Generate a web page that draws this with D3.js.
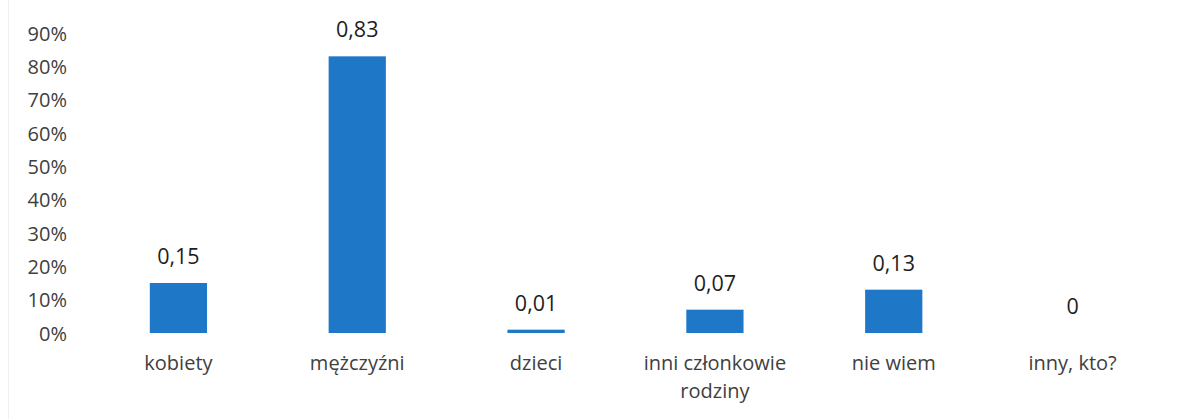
<!DOCTYPE html>
<html>
<head>
<meta charset="utf-8">
<script src="https://cdn.jsdelivr.net/npm/d3@7"></script>
<style>
  html, body { margin: 0; padding: 0; background: #ffffff; }
  svg { display: block; }
</style>
</head>
<body>
<svg id="chart" width="1184" height="419"></svg>
<script>
const categories = ["kobiety", "mężczyźni", "dzieci", "inni członkowie rodziny", "nie wiem", "inny, kto?"];
const values = [0.15, 0.83, 0.01, 0.07, 0.13, 0];
const valueLabels = ["0,15", "0,83", "0,01", "0,07", "0,13", "0"];
const yTicks = [0, 0.1, 0.2, 0.3, 0.4, 0.5, 0.6, 0.7, 0.8, 0.9];

const svg = d3.select("#chart");
const font = "'Open Sans', 'DejaVu Sans', sans-serif";

// faint frame line on the left
svg.append("line").attr("x1", 8.5).attr("x2", 8.5).attr("y1", 0).attr("y2", 419)
  .attr("stroke", "#f0f0f0").attr("stroke-width", 1);

const x = d3.scaleBand().domain(categories).range([89, 1162]).paddingInner(0.68).paddingOuter(0.34);
const y = d3.scaleLinear().domain([0, 0.9]).range([333, 33]);

// y axis
const yAxis = d3.axisLeft(y).tickValues(yTicks).tickFormat(d3.format(".0%")).tickSize(0).tickPadding(0);
const ya = svg.append("g").attr("transform", "translate(67,0)").call(yAxis);
ya.select(".domain").remove();
ya.selectAll("text").attr("font-family", font).attr("font-size", 20).attr("fill", "#404040").attr("dy", "0.35em");

// bars
svg.append("g").selectAll("rect").data(categories).join("rect")
  .attr("x", d => x(d))
  .attr("y", (d, i) => y(values[i]))
  .attr("width", x.bandwidth())
  .attr("height", (d, i) => y(0) - y(values[i]))
  .attr("fill", "#1f77c8");

// value labels
svg.append("g").selectAll("text").data(categories).join("text")
  .attr("x", d => x(d) + x.bandwidth() / 2)
  .attr("y", (d, i) => y(values[i]) - 19)
  .attr("text-anchor", "middle")
  .attr("font-family", font).attr("font-size", 21.5).attr("font-weight", 500)
  .attr("fill", "#1e1e1e")
  .text((d, i) => valueLabels[i]);

// x axis labels
const xAxis = d3.axisBottom(x).tickSize(0).tickPadding(0);
const xa = svg.append("g").attr("transform", "translate(0,353)").call(xAxis);
xa.select(".domain").remove();
xa.selectAll("text").attr("font-family", font).attr("font-size", 20).attr("fill", "#404040")
  .attr("dy", 0).attr("y", 0);

function wrap(text, width) {
  text.each(function() {
    const t = d3.select(this);
    const words = t.text().split(/\s+/);
    t.text(null);
    let line = [], lineNo = 0;
    let tspan = t.append("tspan").attr("x", 0).attr("y", 17);
    for (const w of words) {
      line.push(w);
      tspan.text(line.join(" "));
      if (tspan.node().getComputedTextLength() > width && line.length > 1) {
        line.pop();
        tspan.text(line.join(" "));
        line = [w];
        lineNo++;
        tspan = t.append("tspan").attr("x", 0).attr("y", 17 + lineNo * 28).text(w);
      }
    }
  });
}
xa.selectAll("text").call(wrap, 165);
</script>
</body>
</html>
